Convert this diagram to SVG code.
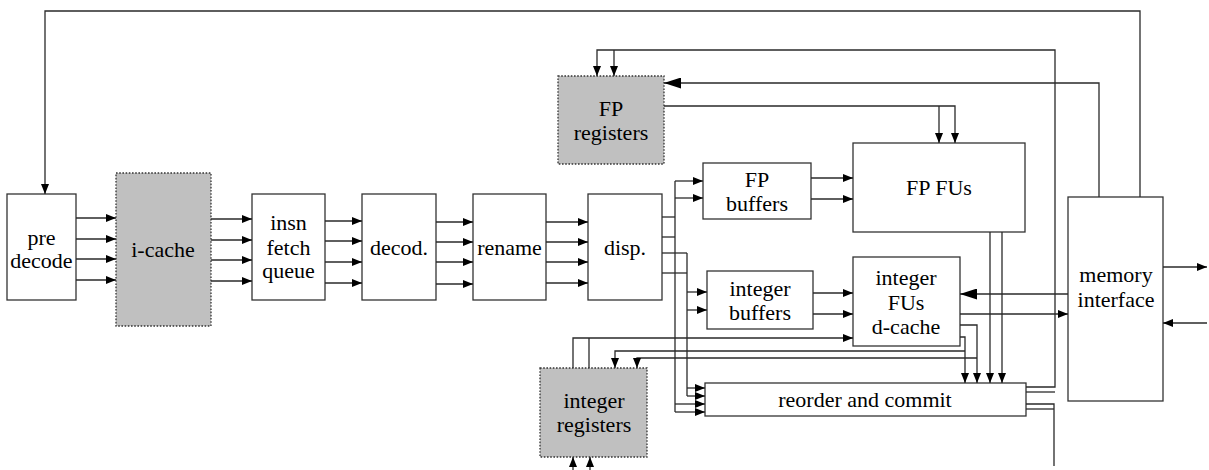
<svg xmlns="http://www.w3.org/2000/svg" width="1209" height="470" viewBox="0 0 1209 470">
  <style>
    .box { fill: #ffffff; stroke: #333333; stroke-width: 1.3; }
    .store { fill: #c0c0c0; stroke: #333333; stroke-width: 1.3; stroke-dasharray: 1.6 1.6; }
    .lbl { font-family: 'Liberation Serif', 'Times New Roman', Tinos, 'Noto Serif', 'DejaVu Serif', FreeSerif, serif; font-size: 22px; fill: #000000; text-anchor: middle; }
    .w { fill: none; stroke: #2a2a2a; stroke-width: 1.3; }
    .a { marker-end: url(#arr); }
    .A { marker-end: url(#arrBig); }
  </style>
  <defs>
    <marker id="arr" viewBox="0 0 10 8" refX="10" refY="4" markerWidth="10" markerHeight="8" markerUnits="userSpaceOnUse" orient="auto">
      <path d="M0,0 L10,4 L0,8 Z" fill="#000000"/>
    </marker>
    <marker id="arrBig" viewBox="0 0 17 11" refX="17" refY="5.5" markerWidth="17" markerHeight="11" markerUnits="userSpaceOnUse" orient="auto">
      <path d="M0,0 L17,5.5 L0,11 Z" fill="#000000"/>
    </marker>
  </defs>

  <rect width="1209" height="470" fill="#ffffff"/>

  <!-- pipeline stages -->
  <g id="predecode">
    <rect class="box" x="7" y="194" width="69" height="106"/>
    <text class="lbl" x="41.5" y="245">pre</text>
    <text class="lbl" x="41.5" y="268">decode</text>
  </g>
  <g id="icache">
    <rect class="store" x="116" y="173" width="95" height="153"/>
    <text class="lbl" x="163" y="257">i-cache</text>
  </g>
  <g id="fetchqueue">
    <rect class="box" x="252" y="194" width="73" height="106"/>
    <text class="lbl" x="288.5" y="230">insn</text>
    <text class="lbl" x="288.5" y="255">fetch</text>
    <text class="lbl" x="288.5" y="278">queue</text>
  </g>
  <g id="decode">
    <rect class="box" x="362" y="194" width="74" height="106"/>
    <text class="lbl" x="399" y="255">decod.</text>
  </g>
  <g id="rename">
    <rect class="box" x="473" y="194" width="73" height="106"/>
    <text class="lbl" x="509.5" y="255">rename</text>
  </g>
  <g id="dispatch">
    <rect class="box" x="588" y="194" width="74" height="106"/>
    <text class="lbl" x="625" y="255">disp.</text>
  </g>

  <!-- register files -->
  <g id="fpregs">
    <rect class="store" x="558" y="76" width="106" height="88"/>
    <text class="lbl" x="611" y="116">FP</text>
    <text class="lbl" x="611" y="140">registers</text>
  </g>
  <g id="intregs">
    <rect class="store" x="540" y="368" width="107" height="89"/>
    <text class="lbl" x="594" y="408">integer</text>
    <text class="lbl" x="594" y="432">registers</text>
  </g>

  <!-- buffers and functional units -->
  <g id="fpbuffers">
    <rect class="box" x="703" y="163" width="108" height="56"/>
    <text class="lbl" x="757" y="187">FP</text>
    <text class="lbl" x="757" y="211">buffers</text>
  </g>
  <g id="intbuffers">
    <rect class="box" x="707" y="271" width="106" height="58"/>
    <text class="lbl" x="760" y="296">integer</text>
    <text class="lbl" x="760" y="320">buffers</text>
  </g>
  <g id="fpfus">
    <rect class="box" x="853" y="143" width="172" height="89"/>
    <text class="lbl" x="939" y="195">FP FUs</text>
  </g>
  <g id="intfus">
    <rect class="box" x="853" y="257" width="107" height="89"/>
    <text class="lbl" x="906" y="285">integer</text>
    <text class="lbl" x="906" y="310">FUs</text>
    <text class="lbl" x="906" y="334">d-cache</text>
  </g>
  <g id="reorder">
    <rect class="box" x="705" y="383" width="321" height="33"/>
    <text class="lbl" x="865" y="407">reorder and commit</text>
  </g>
  <g id="memory">
    <rect class="box" x="1068" y="197" width="95" height="204"/>
    <text class="lbl" x="1116" y="282">memory</text>
    <text class="lbl" x="1116" y="307">interface</text>
  </g>

  <g id="connectors">
    <!-- fetch redirect loop over the top -->
    <path class="w a" d="M1140,197 V11 H45 V194"/>

    <!-- predecode to i-cache -->
    <path class="w a" d="M76,218 H116"/>
    <path class="w a" d="M76,239 H116"/>
    <path class="w a" d="M76,259 H116"/>
    <path class="w a" d="M76,280 H116"/>
    <!-- i-cache to fetch queue -->
    <path class="w a" d="M211,219 H252"/>
    <path class="w a" d="M211,240 H252"/>
    <path class="w a" d="M211,260 H252"/>
    <path class="w a" d="M211,281 H252"/>
    <!-- fetch queue to decode -->
    <path class="w a" d="M325,221 H362"/>
    <path class="w a" d="M325,241 H362"/>
    <path class="w a" d="M325,262 H362"/>
    <path class="w a" d="M325,283 H362"/>
    <!-- decode to rename -->
    <path class="w a" d="M436,222 H473"/>
    <path class="w a" d="M436,242 H473"/>
    <path class="w a" d="M436,262 H473"/>
    <path class="w a" d="M436,284 H473"/>
    <!-- rename to dispatch -->
    <path class="w a" d="M546,222 H588"/>
    <path class="w a" d="M546,242 H588"/>
    <path class="w a" d="M546,262 H588"/>
    <path class="w a" d="M546,283 H588"/>

    <!-- dispatch fan-out -->
    <path class="w" d="M662,217 H675"/>
    <path class="w" d="M662,237 H675"/>
    <path class="w" d="M662,253 H687"/>
    <path class="w" d="M662,273 H687"/>
    <path class="w" d="M675,181 V412"/>
    <path class="w" d="M687,253 V396"/>
    <path class="w a" d="M675,181 H703"/>
    <path class="w a" d="M675,198 H703"/>
    <path class="w a" d="M687,292 H707"/>
    <path class="w a" d="M687,310 H707"/>
    <path class="w a" d="M687,388 H705"/>
    <path class="w a" d="M687,396 H705"/>
    <path class="w a" d="M675,404 H705"/>
    <path class="w a" d="M675,412 H705"/>

    <!-- buffers to functional units -->
    <path class="w a" d="M811,178 H853"/>
    <path class="w a" d="M811,199 H853"/>
    <path class="w a" d="M813,293 H853"/>
    <path class="w a" d="M813,314 H853"/>

    <!-- integer register reads -->
    <path class="w a" d="M573,368 V338 H853"/>
    <path class="w" d="M589,368 V338"/>

    <!-- integer results to reorder and back to registers -->
    <path class="w a" d="M960,325 H977 V383"/>
    <path class="w a" d="M960,337 H965 V383"/>
    <path class="w a" d="M977,358 H637 V368"/>
    <path class="w a" d="M965,351 H615 V368"/>

    <!-- FP results to reorder -->
    <path class="w a" d="M990,232 V383"/>
    <path class="w a" d="M1002,232 V383"/>

    <!-- FP register reads -->
    <path class="w a" d="M664,106 H955 V143"/>
    <path class="w a" d="M939,106 V143"/>

    <!-- commit write-back to FP registers -->
    <path class="w a" d="M1026,387 H1055 V50 H597 V76"/>
    <path class="w" d="M1026,392 H1055"/>
    <path class="w a" d="M614,50 V76"/>

    <!-- commit write-back to integer registers -->
    <path class="w" d="M1026,404 H1054 V466"/>
    <path class="w" d="M1026,409 H1054"/>
    <path class="w a" d="M573,470 V457"/>
    <path class="w a" d="M590,470 V457"/>

    <!-- memory traffic -->
    <path class="w a" d="M960,314 H1068"/>
    <path class="w A" d="M1068,294 H960"/>
    <path class="w A" d="M1099,197 V83 H664"/>
    <path class="w a" d="M1163,267 H1207"/>
    <path class="w a" d="M1207,323 H1163"/>
  </g>
</svg>
